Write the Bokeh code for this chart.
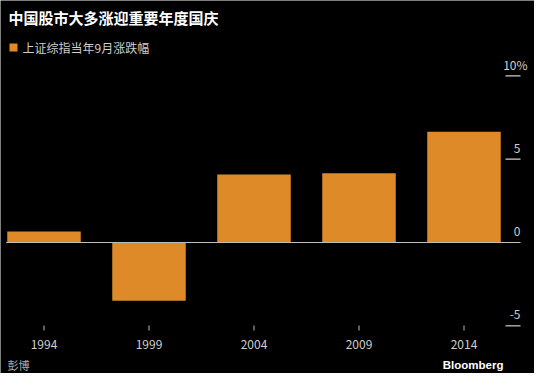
from bokeh.plotting import figure
from bokeh.models import ColumnDataSource, Range1d
from bokeh.core.properties import value
from bokeh.embed import file_html
from bokeh.resources import INLINE

# ---- data ----
years = [1994, 1999, 2004, 2009, 2014]
changes = [0.66, -3.5, 4.08, 4.16, 6.64]
y_ticks = [-5, 0, 5, 10]
y_tick_labels = ["-5", "0", "5", "10%"]
x_tick_labels = ["1994", "1999", "2004", "2009", "2014"]
title_text = "中国股市大多涨迎重要年度国庆"
legend_text = "上证综指当年9月涨跌幅"
source_text = "彭博"
brand_text = "Bloomberg"

# ---- layout constants (canvas pixels) ----
W, H = 534, 373
X0 = 43.5          # canvas x of first year
PX_PER_YEAR = 21.0
Y0 = 242.0         # canvas y of zero
PX_PER_UNIT = 16.667
BAR_W = 3.5

FONT = "Noto Sans CJK SC"
ORANGE = "#DE8A28"
LIGHT = "#cfcfcf"


def fx(cx):
    return years[0] + (cx - X0) / PX_PER_YEAR


def fy(cy):
    return (Y0 - cy) / PX_PER_UNIT


p = figure(width=W, height=H, output_backend="svg", toolbar_location=None,
           x_range=Range1d(fx(0), fx(W)), y_range=Range1d(fy(H), fy(0)),
           x_axis_location=None, y_axis_location=None,
           min_border_left=0, min_border_right=0, min_border_top=0,
           min_border_bottom=0)
p.background_fill_color = "black"
p.border_fill_color = "black"
p.outline_line_color = None
p.grid.visible = False

src = ColumnDataSource(dict(x=years, top=changes))
p.vbar(x="x", top="top", bottom=0, width=BAR_W, source=src,
       fill_color=ORANGE, line_color=None)

# zero line
p.segment(x0=[years[0] - BAR_W / 2 - 0.05], y0=[0], x1=[fx(520)], y1=[0],
          line_color="#bdbdbd", line_width=1.2)

# y ticks (right side, labels above lines)
nz = [t for t in y_ticks if t != 0]
p.segment(x0=[fx(505)] * len(nz), y0=nz, x1=[fx(520)] * len(nz), y1=nz,
          line_color=LIGHT, line_width=1.2)
for t, lab in zip(y_ticks, y_tick_labels):
    xr = fx(527) if lab.endswith("%") else fx(520)
    p.text(x=[xr], y=[t + 11 / PX_PER_UNIT], text=[lab], text_align="right",
           text_baseline="middle", text_color=LIGHT, text_font_size="12px",
           text_font=value(FONT))

# x ticks and labels
p.segment(x0=years, y0=[fy(325)] * len(years), x1=years,
          y1=[fy(330)] * len(years), line_color="#bbbbbb", line_width=1)
p.text(x=years, y=[fy(344)] * len(years), text=x_tick_labels,
       text_align="center", text_baseline="middle", text_color=LIGHT,
       text_font_size="12px", text_font=value(FONT))

# title and legend
p.text(x=[fx(8)], y=[fy(17)], text=[title_text], text_align="left",
       text_baseline="middle", text_color="white", text_font_size="15px",
       text_font_style="bold", text_font=value(FONT))
p.scatter(x=[fx(13)], y=[fy(47)], marker="square", size=8,
          fill_color=ORANGE, line_color=None)
p.text(x=[fx(22)], y=[fy(47)], text=[legend_text], text_align="left",
       text_baseline="middle", text_color=LIGHT, text_font_size="12px",
       text_font=value(FONT))

# footer
p.text(x=[fx(7)], y=[fy(364)], text=[source_text], text_align="left",
       text_baseline="middle", text_color="#b0b0b0", text_font_size="11px",
       text_font=value(FONT))
p.text(x=[fx(503)], y=[fy(364)], text=[brand_text], text_align="right",
       text_baseline="middle", text_color="white", text_font_size="11.5px",
       text_font_style="bold", text_font=value("Liberation Sans"))

open("out.html", "w").write(file_html(p, INLINE))
